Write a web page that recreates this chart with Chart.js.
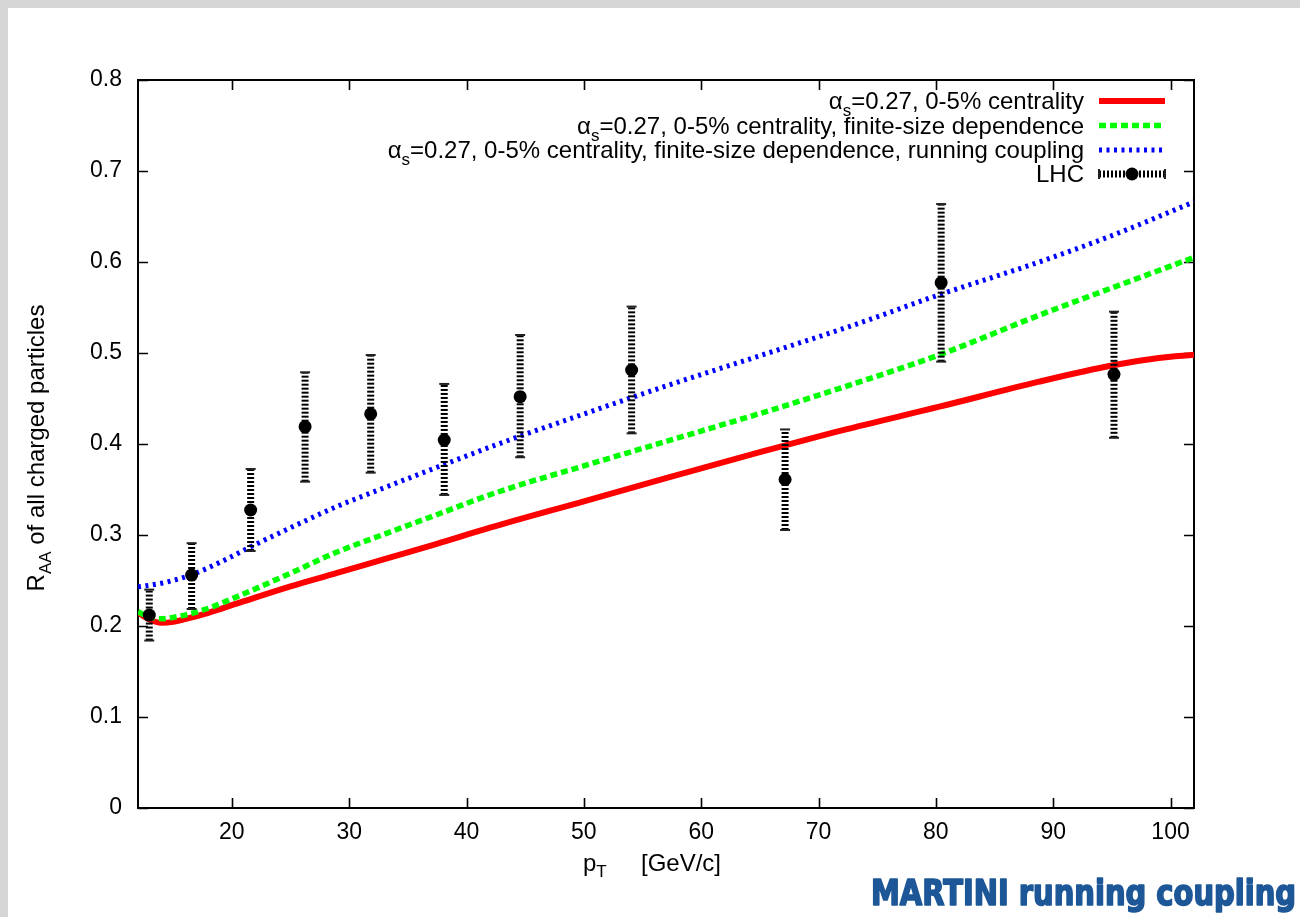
<!DOCTYPE html>
<html>
<head>
<meta charset="utf-8">
<title>R_AA of all charged particles vs p_T</title>
<script src="https://cdn.jsdelivr.net/npm/chart.js@4.4.1/dist/chart.umd.min.js"></script>
<style>
  html, body { margin: 0; padding: 0; background: #d6d6d6; }
  canvas { display: block; }
</style>
</head>
<body>
<canvas id="chart" width="1300" height="917"></canvas>
<script>
// ---- data -------------------------------------------------------------
// alpha_s = 0.27, 0-5% centrality
const redPt  = [12, 13, 14, 15, 16, 18, 20.4, 25, 28.9, 33, 37.4, 42, 50, 57.3, 65, 72, 80.3, 88.8, 95.1, 99, 102];
const redRaa = [0.215, 0.207, 0.2035, 0.2045, 0.2075, 0.2145, 0.2245, 0.2435, 0.258, 0.2735, 0.290, 0.308, 0.337, 0.3635, 0.391, 0.415, 0.441, 0.4685, 0.4865, 0.4945, 0.498];

// + finite-size dependence
const greenPt  = [12, 13, 14, 15, 16, 18, 20.4, 25, 28.9, 33, 37.4, 42.5, 50, 57.3, 65, 72, 80.3, 88.8, 95.1, 102];
const greenRaa = [0.2155, 0.210, 0.208, 0.2095, 0.212, 0.2195, 0.232, 0.258, 0.281, 0.301, 0.322, 0.3465, 0.376, 0.404, 0.4335, 0.462, 0.498, 0.5415, 0.572, 0.605];

// + finite-size dependence + running coupling
const bluePt  = [12, 14, 16.5, 19, 21.6, 25, 28.9, 33, 37.4, 42.5, 50, 57.3, 65, 72.6, 80.3, 88.8, 95, 102];
const blueRaa = [0.243, 0.247, 0.256, 0.270, 0.287, 0.308, 0.331, 0.352, 0.374, 0.399, 0.433, 0.465, 0.497, 0.529, 0.564, 0.600, 0.629, 0.666];

// LHC charged-hadron measurement with lower / upper error limits
const lhcPt   = [12.96, 16.57, 21.6, 26.24, 31.83, 38.1, 44.57, 54.07, 67.15, 80.45, 95.18];
const lhcRaa  = [0.212, 0.256, 0.3275, 0.419, 0.433, 0.4044, 0.452, 0.4813, 0.361, 0.5773, 0.4766];
const lhcLow  = [0.184, 0.2187, 0.2824, 0.3586, 0.3685, 0.344, 0.3854, 0.4117, 0.3055, 0.4905, 0.4068];
const lhcHigh = [0.240, 0.291, 0.3725, 0.4788, 0.4978, 0.466, 0.5198, 0.551, 0.416, 0.6637, 0.5454];

const xTicks = [20, 30, 40, 50, 60, 70, 80, 90, 100];
const yTicks = [0, 0.1, 0.2, 0.3, 0.4, 0.5, 0.6, 0.7, 0.8];

const legendLabels = [
  '0.27, 0-5% centrality',
  '0.27, 0-5% centrality, finite-size dependence',
  '0.27, 0-5% centrality, finite-size dependence, running coupling',
  'LHC'
];
const xTitle = ['p', 'T', '[GeV/c]'];
const yTitle = ['R', 'AA', ' of all charged particles'];
const banner = 'MARTINI running coupling';

// ---- styles -----------------------------------------------------------
const FONT = '"Liberation Sans", Arial, Helvetica, sans-serif';
const RED = '#ff0000', GREEN = '#00ff00', BLUE = '#0000ff';
const RED_W = 6, GREEN_W = 5.5, BLUE_W = 5;
const GREEN_DASH = [7, 4], BLUE_DASH = [3, 4.5];
const TEXT = 24, SUB = 17;

const toXY = (xs, ys) => xs.map((x, i) => ({ x, y: ys[i] }));

// page background: grey frame with white sheet
const sheetPlugin = {
  id: 'sheet',
  beforeDraw(chart) {
    const ctx = chart.ctx;
    ctx.save();
    ctx.fillStyle = '#d6d6d6';
    ctx.fillRect(0, 0, chart.width, chart.height);
    ctx.fillStyle = '#ffffff';
    ctx.fillRect(8, 8, chart.width - 8, chart.height - 8);
    ctx.restore();
  }
};

// plot border with inward tick marks on all four sides
const framePlugin = {
  id: 'frame',
  beforeDatasetsDraw(chart) {
    const { ctx, chartArea: a, scales } = chart;
    ctx.save();
    ctx.strokeStyle = '#000';
    ctx.lineWidth = 2;
    ctx.strokeRect(a.left, a.top, a.right - a.left, a.bottom - a.top);
    ctx.lineWidth = 1.6;
    const L = 10;
    ctx.beginPath();
    scales.x.ticks.forEach(t => {
      const px = Math.round(scales.x.getPixelForValue(t.value)) + 0.5;
      ctx.moveTo(px, a.bottom); ctx.lineTo(px, a.bottom - L);
      ctx.moveTo(px, a.top);    ctx.lineTo(px, a.top + L);
    });
    scales.y.ticks.forEach(t => {
      const py = Math.round(scales.y.getPixelForValue(t.value)) + 0.5;
      ctx.moveTo(a.left, py);  ctx.lineTo(a.left + L, py);
      ctx.moveTo(a.right, py); ctx.lineTo(a.right - L, py);
    });
    ctx.stroke();
    ctx.restore();
  }
};

// vertical error bars of the LHC points, drawn just under the markers
function drawCap(ctx, x, y) {
  ctx.save();
  ctx.setLineDash([]);
  ctx.lineWidth = 2;
  ctx.strokeStyle = '#222';
  ctx.beginPath();
  ctx.moveTo(x - 5, y); ctx.lineTo(x + 5, y);
  ctx.stroke();
  ctx.restore();
}
const errorBarPlugin = {
  id: 'errorBars',
  beforeDatasetDraw(chart, args) {
    if (chart.data.datasets[args.index].label !== 'LHC') return;
    const { ctx, scales } = chart;
    ctx.save();
    ctx.strokeStyle = '#000';
    ctx.lineWidth = 7;
    ctx.setLineDash([2, 2]);
    lhcPt.forEach((x, i) => {
      const px = scales.x.getPixelForValue(x);
      const yl = scales.y.getPixelForValue(lhcLow[i]);
      const yh = scales.y.getPixelForValue(lhcHigh[i]);
      ctx.beginPath();
      ctx.moveTo(px, yl); ctx.lineTo(px, yh);
      ctx.stroke();
      drawCap(ctx, px, yl);
      drawCap(ctx, px, yh);
    });
    ctx.restore();
  }
};

// text with a smaller, lowered subscript part; returns total width
function richWidth(ctx, parts) {
  let w = 0;
  parts.forEach((p, i) => {
    ctx.font = (i === 1 ? SUB : TEXT) + 'px ' + FONT;
    w += ctx.measureText(p).width;
  });
  return w;
}
function drawRich(ctx, parts, x, y, drop) {
  parts.forEach((p, i) => {
    ctx.font = (i === 1 ? SUB : TEXT) + 'px ' + FONT;
    ctx.fillText(p, x, i === 1 ? y + drop : y);
    x += ctx.measureText(p).width;
  });
}

// axis titles, legend and banner
const annotationPlugin = {
  id: 'annotations',
  afterDraw(chart) {
    const { ctx } = chart;
    ctx.save();
    ctx.fillStyle = '#000';
    ctx.textBaseline = 'alphabetic';
    ctx.textAlign = 'left';

    // x title: "p_T" then the unit
    drawRich(ctx, xTitle.slice(0, 2), 583, 871, 6);
    ctx.font = TEXT + 'px ' + FONT;
    ctx.fillText(xTitle[2], 641, 871);

    // y title (rotated)
    ctx.save();
    ctx.translate(44, 448);
    ctx.rotate(-Math.PI / 2);
    const yw = richWidth(ctx, yTitle);
    drawRich(ctx, yTitle, -yw / 2, 0, 7);
    ctx.restore();

    // legend
    const textRight = 1084;
    const sx0 = 1099, sx1 = 1165;
    const rowY = [101, 125.5, 150, 174];
    for (let r = 0; r < 3; r++) {
      const alpha = '\u03B1', sub = 's', rest = '=' + legendLabels[r];
      ctx.font = TEXT + 'px ' + FONT; const wa = ctx.measureText(alpha).width;
      ctx.font = SUB + 'px ' + FONT;  const ws = ctx.measureText(sub).width;
      ctx.font = TEXT + 'px ' + FONT; const wr = ctx.measureText(rest).width;
      let x = textRight - (wa + ws + wr);
      const base = rowY[r] + 8;
      ctx.font = TEXT + 'px ' + FONT; ctx.fillText(alpha, x, base); x += wa;
      ctx.font = SUB + 'px ' + FONT;  ctx.fillText(sub, x, base + 7); x += ws;
      ctx.font = TEXT + 'px ' + FONT; ctx.fillText(rest, x, base);
    }
    ctx.font = TEXT + 'px ' + FONT;
    ctx.textAlign = 'right';
    ctx.fillText(legendLabels[3], textRight, rowY[3] + 8);
    ctx.textAlign = 'left';

    const samples = [
      { c: RED, w: RED_W, d: [] },
      { c: GREEN, w: GREEN_W, d: GREEN_DASH },
      { c: BLUE, w: BLUE_W, d: BLUE_DASH }
    ];
    samples.forEach((s, r) => {
      ctx.save();
      ctx.strokeStyle = s.c; ctx.lineWidth = s.w; ctx.setLineDash(s.d);
      ctx.beginPath(); ctx.moveTo(sx0, rowY[r]); ctx.lineTo(sx1, rowY[r]); ctx.stroke();
      ctx.restore();
    });
    // horizontal error-bar sample
    ctx.save();
    ctx.strokeStyle = '#000'; ctx.lineWidth = 7; ctx.setLineDash([2, 2]);
    ctx.beginPath(); ctx.moveTo(sx0, rowY[3]); ctx.lineTo(sx1, rowY[3]); ctx.stroke();
    ctx.setLineDash([]); ctx.lineWidth = 2; ctx.strokeStyle = '#222';
    ctx.beginPath();
    ctx.moveTo(sx0, rowY[3] - 5); ctx.lineTo(sx0, rowY[3] + 5);
    ctx.moveTo(sx1, rowY[3] - 5); ctx.lineTo(sx1, rowY[3] + 5);
    ctx.stroke();
    ctx.fillStyle = '#000';
    ctx.beginPath(); ctx.arc((sx0 + sx1) / 2, rowY[3], 6.5, 0, Math.PI * 2); ctx.fill();
    ctx.restore();

    // banner
    ctx.save();
    ctx.fillStyle = '#1d5797';
    ctx.strokeStyle = '#1d5797';
    ctx.lineWidth = 1.6;
    ctx.lineJoin = 'round';
    ctx.font = 'bold 35px "DejaVu Sans Condensed", "DejaVu Sans", sans-serif';
    const bw = ctx.measureText(banner).width;
    const target = 425;
    ctx.translate(871, 905);
    ctx.scale(target / bw, 1);
    ctx.fillText(banner, 0, 0);
    ctx.strokeText(banner, 0, 0);
    ctx.restore();

    ctx.restore();
  }
};

new Chart(document.getElementById('chart'), {
  type: 'scatter',
  data: {
    datasets: [
      {
        label: 'LHC',
        data: toXY(lhcPt, lhcRaa),
        showLine: false,
        pointRadius: 6.5,
        pointHoverRadius: 6.5,
        pointBackgroundColor: '#000',
        pointBorderColor: '#000',
        pointBorderWidth: 0,
        order: 1
      },
      {
        label: 'running coupling',
        data: toXY(bluePt, blueRaa),
        showLine: true,
        borderColor: BLUE,
        borderWidth: BLUE_W,
        borderDash: BLUE_DASH,
        borderCapStyle: 'butt',
        pointRadius: 0,
        cubicInterpolationMode: 'monotone',
        order: 2
      },
      {
        label: 'finite-size',
        data: toXY(greenPt, greenRaa),
        showLine: true,
        borderColor: GREEN,
        borderWidth: GREEN_W,
        borderDash: GREEN_DASH,
        borderCapStyle: 'butt',
        pointRadius: 0,
        cubicInterpolationMode: 'monotone',
        order: 3
      },
      {
        label: 'fixed coupling',
        data: toXY(redPt, redRaa),
        showLine: true,
        borderColor: RED,
        borderWidth: RED_W,
        pointRadius: 0,
        cubicInterpolationMode: 'monotone',
        order: 4
      }
    ]
  },
  options: {
    responsive: false,
    animation: false,
    devicePixelRatio: 1,
    layout: { padding: { left: 0, top: 80, right: 106, bottom: 0 } },
    plugins: { legend: { display: false }, tooltip: { enabled: false } },
    scales: {
      x: {
        type: 'linear',
        min: 12,
        max: 102,
        grid: { display: false, drawTicks: false },
        border: { display: false },
        afterBuildTicks: s => { s.ticks = xTicks.map(v => ({ value: v })); },
        afterFit: s => { s.height = 109; },
        ticks: {
          padding: 11,
          color: '#000',
          font: { family: FONT, size: 23 },
          maxRotation: 0,
          callback: v => String(v)
        }
      },
      y: {
        type: 'linear',
        min: 0,
        max: 0.8,
        grid: { display: false, drawTicks: false },
        border: { display: false },
        afterBuildTicks: s => { s.ticks = yTicks.map(v => ({ value: v })); },
        afterFit: s => { s.width = 138; },
        ticks: {
          padding: 16,
          color: '#000',
          font: { family: FONT, size: 23 },
          callback: v => (v === 0 ? '0' : v.toFixed(1))
        }
      }
    }
  },
  plugins: [sheetPlugin, framePlugin, errorBarPlugin, annotationPlugin]
});
</script>
</body>
</html>
